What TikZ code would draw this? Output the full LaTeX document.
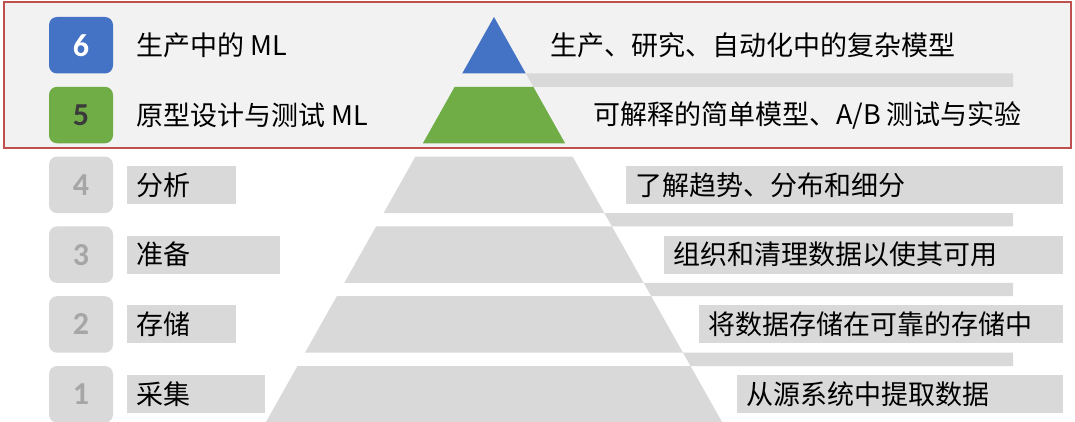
\documentclass[tikz,border=0pt]{standalone}
\usepackage{fontspec}
\setmainfont{Noto Sans CJK SC}
\newfontfamily\numfont{Carlito}
\definecolor{mlblue}{HTML}{4472C4}
\definecolor{mlgreen}{HTML}{70AD47}
\definecolor{band}{HTML}{D9D9D9}
\definecolor{numgray}{HTML}{A6A6A6}
\definecolor{darknum}{HTML}{3A3A3A}
\definecolor{frame}{HTML}{C0504D}
\definecolor{panel}{HTML}{F2F2F2}
\tikzset{
  numbox/.style={rounded corners=8pt, minimum width=64pt, minimum height=56.5pt,
    inner sep=0pt, font=\numfont\bfseries\fontsize{32}{32}\selectfont},
  rowtext/.style={anchor=west, inner sep=0pt, font=\fontsize{27}{30}\selectfont},
  tagbox/.style={fill=band, anchor=west, inner xsep=9pt, inner ysep=0pt,
    minimum height=38pt, text width=#1, align=left, font=\fontsize{27}{30}\selectfont}
}
\begin{document}
\begin{tikzpicture}[x=1pt, y=-1pt]
	\useasboundingbox (0,0) rectangle (1075,422);
	\fill[white] (0,0) rectangle (1075,422);
	\draw[frame, line width=1.3pt, fill=panel] (4,2) rectangle (1071,148);
	% pyramid bands and the bars between them
	\fill[mlblue] (494,17) -- (525.8,73.5) -- (462.2,73.5) -- cycle;
	\fill[band] (525.8,73.5) -- (1013,73.5) -- (1013,86.8) -- (533.3,86.8) -- cycle;
	\fill[mlgreen] (454.7,86.8) -- (533.3,86.8) -- (565.1,143.3) -- (422.9,143.3) -- cycle;
	\fill[band] (415.4,156.6) -- (572.6,156.6) -- (604.4,213.1) -- (383.6,213.1) -- cycle;
	\fill[band] (604.4,213.1) -- (1013,213.1) -- (1013,226.4) -- (611.9,226.4) -- cycle;
	\fill[band] (376.1,226.4) -- (611.9,226.4) -- (643.7,282.9) -- (344.3,282.9) -- cycle;
	\fill[band] (643.7,282.9) -- (1013,282.9) -- (1013,296.2) -- (651.2,296.2) -- cycle;
	\fill[band] (336.8,296.2) -- (651.2,296.2) -- (683.0,352.7) -- (305.0,352.7) -- cycle;
	\fill[band] (683.0,352.7) -- (1013,352.7) -- (1013,366) -- (690.5,366) -- cycle;
	\fill[band] (297.5,366) -- (690.5,366) -- (722.3,422.5) -- (265.7,422.5) -- cycle;
	% number boxes
	\node[numbox, fill=mlblue, text=white] (n6) at (81,45.25) {6};
	\node[numbox, fill=mlgreen, text=darknum] (n5) at (81,115.05) {5};
	\node[numbox, fill=band, text=numgray] (n4) at (81,184.85) {4};
	\node[numbox, fill=band, text=numgray] (n3) at (81,254.65) {3};
	\node[numbox, fill=band, text=numgray] (n2) at (81,324.45) {2};
	\node[numbox, fill=band, text=numgray] (n1) at (81,394.25) {1};
	% left labels
	\node[rowtext] (l6) at (136,45.25) {生产中的 ML};
	\node[rowtext] (l5) at (136,115.05) {原型设计与测试 ML};
	\node[tagbox=91pt] (l4) at (127,184.85) {分析};
	\node[tagbox=135pt] (l3) at (127,254.65) {准备};
	\node[tagbox=91pt] (l2) at (127,324.45) {存储};
	\node[tagbox=120pt] (l1) at (127,394.25) {采集};
	% right labels
	\node[rowtext] (r6) at (550,45.25) {生产、研究、自动化中的复杂模型};
	\node[rowtext] (r5) at (593,115.05) {可解释的简单模型、A/B 测试与实验};
	\node[tagbox=419pt] (r4) at (626,184.85) {了解趋势、分布和细分};
	\node[tagbox=381pt] (r3) at (664,254.65) {组织和清理数据以使其可用};
	\node[tagbox=346pt] (r2) at (699,324.45) {将数据存储在可靠的存储中};
	\node[tagbox=308pt] (r1) at (737,394.25) {从源系统中提取数据};
\end{tikzpicture}
\end{document}
